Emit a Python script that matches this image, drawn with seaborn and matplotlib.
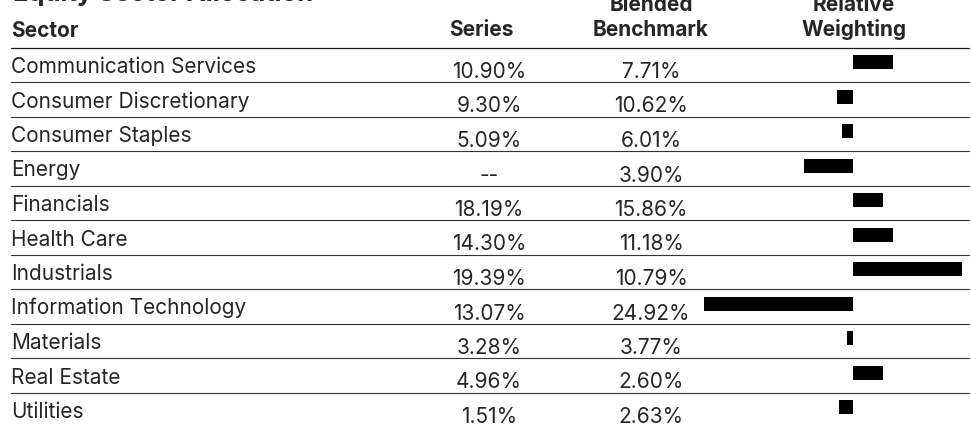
import matplotlib
matplotlib.use("Agg")
import matplotlib.pyplot as plt
import seaborn as sns

sectors = ["Communication Services", "Consumer Discretionary", "Consumer Staples",
           "Energy", "Financials", "Health Care", "Industrials",
           "Information Technology", "Materials", "Real Estate", "Utilities"]
series = ["10.90%", "9.30%", "5.09%", "--", "18.19%", "14.30%", "19.39%",
          "13.07%", "3.28%", "4.96%", "1.51%"]
benchmark = ["7.71%", "10.62%", "6.01%", "3.90%", "15.86%", "11.18%", "10.79%",
             "24.92%", "3.77%", "2.60%", "2.63%"]
relative = [3.19, -1.32, -0.92, -3.90, 2.33, 3.12, 8.60, -11.85, -0.49, 2.36, -1.12]

title = "Equity Sector Allocation"

sns.set_theme(style="white")
plt.rcParams["font.family"] = ["Inter", "DejaVu Sans"]

W, H = 971, 424
ROW0, STEP = 62, 34.5          # pixel centre of first bar row, row pitch


def row(p):
    return (p - ROW0) / STEP


fig = plt.figure(figsize=(W / 100, H / 100), dpi=100)
ax = fig.add_axes([0, 0, 1, 1])
ax.set_xlim(0, W)
ax.set_ylim(row(H), row(0))
ax.axis("off")

# relative weighting bars
zero_px, px_per = 853.3, 12.6
axb = fig.add_axes([690 / W, 0, 281 / W, 1])
sns.barplot(x=relative, y=sectors, orient="h", color="black", saturation=1,
            width=14 / STEP, linewidth=0, ax=axb)
axb.set_xlim((690 - zero_px) / px_per, (971 - zero_px) / px_per)
axb.set_ylim(row(H), row(0))
axb.axis("off")

fs = 15
# title (mostly cropped, as in the source)
ax.text(13, row(1.5), title, fontsize=18.4, fontweight="bold", va="baseline", ha="left")

# headers
hdr = dict(fontsize=fs, fontweight="bold", va="baseline")
ax.text(11, row(37), "Sector", ha="left", **hdr)
ax.text(481, row(36.5), "Series", ha="center", **hdr)
ax.text(651, row(11), "Blended", ha="center", **hdr)
ax.text(651, row(36), "Benchmark", ha="center", **hdr)
ax.text(854, row(11), "Relative", ha="center", **hdr)
ax.text(854, row(36), "Weighting", ha="center", **hdr)
ax.plot([11, 969], [row(47.5)] * 2, color="#1a1a1a", lw=0.9)

for k, name in enumerate(sectors):
    ax.text(11, k + 11 / STEP, name, fontsize=fs, ha="left", va="baseline")
    ax.text(489, k + 16 / STEP, series[k], fontsize=fs, ha="center", va="baseline")
    ax.text(651, k + 16 / STEP, benchmark[k], fontsize=fs, ha="center", va="baseline")
    if k < len(sectors) - 1:
        y = k + (82.3 - ROW0) / STEP
        ax.plot([11, 969], [y, y], color="#333333", lw=0.8)

fig.savefig("out.png", dpi=100)
